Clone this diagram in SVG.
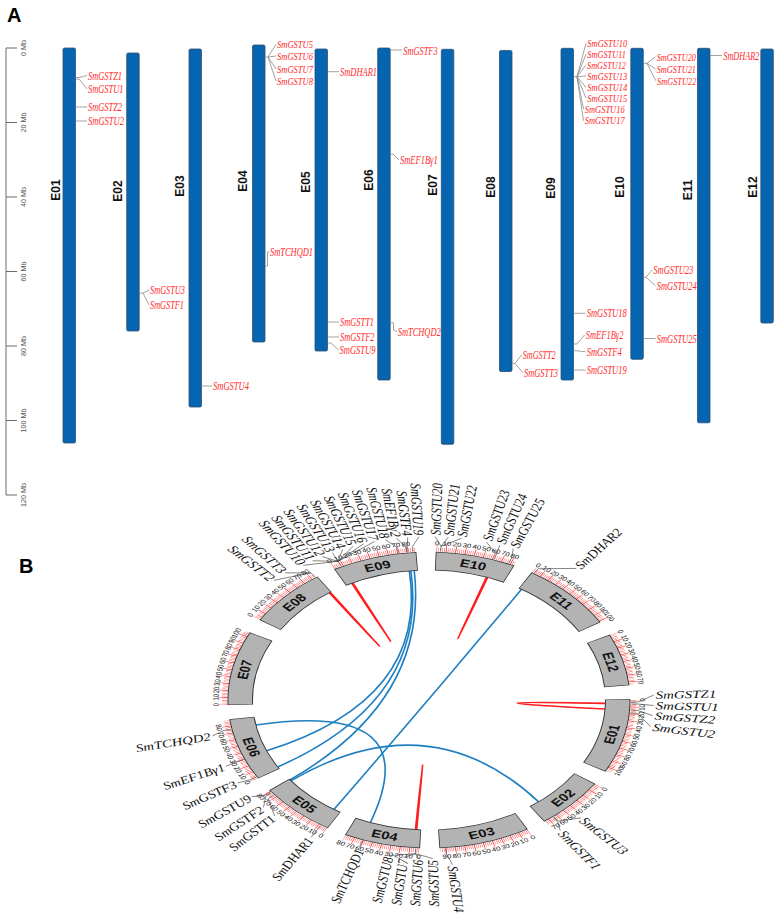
<svg xmlns="http://www.w3.org/2000/svg" width="781" height="918" viewBox="0 0 781 918">
<style>
.pl{font:bold 20px "Liberation Sans",Arial,sans-serif;fill:#000}
.rul{fill:none;stroke:#6b6b6b;stroke-width:1}
.rt{font:7.2px "Liberation Sans",Arial,sans-serif;fill:#555;text-anchor:middle;dominant-baseline:central}
.chr{fill:#0565b0;stroke:#2f4f70;stroke-width:0.8}
.cl{font:bold 12px "Liberation Sans",Arial,sans-serif;fill:#111;text-anchor:middle;dominant-baseline:central}
.gA{font:italic 12.5px "Liberation Serif","Times New Roman",serif;fill:#ff2a2a}
.gs{font-size:10.5px}
.cn{fill:none;stroke:#8c8c8c;stroke-width:0.8}
.lk{fill:none;stroke-width:1.6;vector-effect:non-scaling-stroke}
.r{stroke:#ff1e1e}
.b{stroke:#1f7fc2}
.mn{fill:none;stroke:#ff3535;stroke-width:4;stroke-dasharray:0.35 1.06842;stroke-dashoffset:0.175}
.mj{fill:none;stroke:#ff3535;stroke-width:9;stroke-dasharray:0.5 6.5921;stroke-dashoffset:0.25}
.bo{fill:none;stroke:#333;stroke-width:18.8}
.bf{fill:none;stroke:#b3b3b3;stroke-width:17.4}
.sl{font:bold 11px "Liberation Sans",Arial,sans-serif;fill:#111;text-anchor:middle;dominant-baseline:central}
.tk{font:5.8px "Liberation Sans",Arial,sans-serif;fill:#111;text-anchor:middle;dominant-baseline:central}
.ld{fill:none;stroke:#333;stroke-width:0.6;vector-effect:non-scaling-stroke}
.gl{font:italic 11px "Liberation Serif","Times New Roman",serif;fill:#111;dominant-baseline:central}
.e{text-anchor:end}
</style>
<defs>
<path id="a2862" d="M150.5 0A150.5 150.5 0 0 1 132.112 72.089"/>
<path id="a2025" d="M150.5 0A150.5 150.5 0 0 1 141.197 52.091"/>
<path id="a2592" d="M150.5 0A150.5 150.5 0 0 1 135.360 65.786"/>
<path id="a2160" d="M150.5 0A150.5 150.5 0 0 1 139.931 55.403"/>
<path id="a2187" d="M150.5 0A150.5 150.5 0 0 1 139.669 56.062"/>
<path id="a2403" d="M150.5 0A150.5 150.5 0 0 1 137.456 61.286"/>
<path id="a2322" d="M150.5 0A150.5 150.5 0 0 1 138.309 59.336"/>
<path id="a2268" d="M150.5 0A150.5 150.5 0 0 1 138.862 58.031"/>
<path id="a2727" d="M150.5 0A150.5 150.5 0 0 1 133.773 68.957"/>
<path id="a1998" d="M150.5 0A150.5 150.5 0 0 1 141.442 51.425"/>
</defs>
<rect width="781" height="918" fill="#fff"/>

<g id="panelA">
<text class="pl" x="7" y="22">A</text>
<g id="ruler">
<path class="rul" d="M6 48V495M6 48H17M6 122.5H17M6 197H17M6 271.5H17M6 346H17M6 420.5H17M6 495H17"/>
<text class="rt" transform="translate(23 48) rotate(-90)">0 Mb</text>
<text class="rt" transform="translate(23 122.5) rotate(-90)">20 Mb</text>
<text class="rt" transform="translate(23 197) rotate(-90)">40 Mb</text>
<text class="rt" transform="translate(23 271.5) rotate(-90)">60 Mb</text>
<text class="rt" transform="translate(23 346) rotate(-90)">80 Mb</text>
<text class="rt" transform="translate(23 420.5) rotate(-90)">100 Mb</text>
<text class="rt" transform="translate(23 495) rotate(-90)">120 Mb</text>
</g>
<g id="A-E01">
<rect class="chr" x="63" y="48" width="12.5" height="395" rx="1.5"/>
<text class="cl" transform="translate(56 190) rotate(-90)">E01</text>
<path class="cn" d="M75.5 77.5H79L87 75.5M75.5 79H79L87 89M75.5 107H87M75.5 121H87"/>
<text class="gA" x="88" y="80" textLength="34" lengthAdjust="spacingAndGlyphs">SmGSTZ1</text>
<text class="gA" x="88" y="93" textLength="35.5" lengthAdjust="spacingAndGlyphs">SmGSTU1</text>
<text class="gA" x="88" y="111" textLength="34" lengthAdjust="spacingAndGlyphs">SmGSTZ2</text>
<text class="gA" x="88" y="125" textLength="36" lengthAdjust="spacingAndGlyphs">SmGSTU2</text>
</g>
<g id="A-E02">
<rect class="chr" x="126.7" y="53" width="12.5" height="278" rx="1.5"/>
<text class="cl" transform="translate(118 191) rotate(-90)">E02</text>
<path class="cn" d="M139.2 293H143L149 290M143 293L149 305"/>
<text class="gA" x="150" y="294" textLength="35" lengthAdjust="spacingAndGlyphs">SmGSTU3</text>
<text class="gA" x="150" y="309" textLength="34" lengthAdjust="spacingAndGlyphs">SmGSTF1</text>
</g>
<g id="A-E03">
<rect class="chr" x="189" y="49" width="12.5" height="358" rx="1.5"/>
<text class="cl" transform="translate(180 186) rotate(-90)">E03</text>
<path class="cn" d="M201.5 386H212"/>
<text class="gA" x="213" y="390" textLength="36" lengthAdjust="spacingAndGlyphs">SmGSTU4</text>
</g>
<g id="A-E04">
<rect class="chr" x="252.5" y="45" width="12.5" height="297" rx="1.5"/>
<text class="cl" transform="translate(243 181) rotate(-90)">E04</text>
<path class="cn" d="M265 57H268L276 44.5M268 57L276 56M268 57L276 69M268 57L276 81M265 266H267.5V252H269.5"/>
<text class="gA gs" x="277" y="48.3" textLength="36" lengthAdjust="spacingAndGlyphs">SmGSTU5</text>
<text class="gA gs" x="277" y="59.8" textLength="36" lengthAdjust="spacingAndGlyphs">SmGSTU6</text>
<text class="gA gs" x="277" y="72.8" textLength="36" lengthAdjust="spacingAndGlyphs">SmGSTU7</text>
<text class="gA gs" x="277" y="84.8" textLength="36" lengthAdjust="spacingAndGlyphs">SmGSTU8</text>
<text class="gA" x="270" y="256" textLength="43" lengthAdjust="spacingAndGlyphs">SmTCHQD1</text>
</g>
<g id="A-E05">
<rect class="chr" x="315" y="49" width="12.5" height="302" rx="1.5"/>
<text class="cl" transform="translate(306 182) rotate(-90)">E05</text>
<path class="cn" d="M327.5 71.7H339M327.5 322H339M327.5 337H339M327.5 343H331L338.5 350"/>
<text class="gA" x="340" y="75.7" textLength="37" lengthAdjust="spacingAndGlyphs">SmDHAR1</text>
<text class="gA" x="340" y="326" textLength="34" lengthAdjust="spacingAndGlyphs">SmGSTT1</text>
<text class="gA" x="340" y="341" textLength="34.5" lengthAdjust="spacingAndGlyphs">SmGSTF2</text>
<text class="gA" x="339.5" y="354" textLength="36" lengthAdjust="spacingAndGlyphs">SmGSTU9</text>
</g>
<g id="A-E06">
<rect class="chr" x="377.7" y="48" width="12.5" height="332" rx="1.5"/>
<text class="cl" transform="translate(369 180) rotate(-90)">E06</text>
<path class="cn" d="M390.2 50H402M390.2 154H393L399 160M390.2 322.7H393.5V330L397 331.7"/>
<text class="gA" x="403.3" y="54.5" textLength="34.3" lengthAdjust="spacingAndGlyphs">SmGSTF3</text>
<text class="gA" x="400" y="164" textLength="37.7" lengthAdjust="spacingAndGlyphs">SmEF1Bγ1</text>
<text class="gA" x="397.7" y="335.7" textLength="43" lengthAdjust="spacingAndGlyphs">SmTCHQD2</text>
</g>
<g id="A-E07">
<rect class="chr" x="441.3" y="49.3" width="12.5" height="395" rx="1.5"/>
<text class="cl" transform="translate(433 185) rotate(-90)">E07</text>
</g>
<g id="A-E08">
<rect class="chr" x="499.5" y="50.5" width="12.5" height="321" rx="1.5"/>
<text class="cl" transform="translate(491 187) rotate(-90)">E08</text>
<path class="cn" d="M512 363.5H515L521.5 355M515 363.5L523 372.7"/>
<text class="gA" x="522.7" y="359" textLength="33" lengthAdjust="spacingAndGlyphs">SmGSTT2</text>
<text class="gA" x="524" y="376.7" textLength="34" lengthAdjust="spacingAndGlyphs">SmGSTT3</text>
</g>
<g id="A-E09">
<rect class="chr" x="561" y="48.3" width="12.5" height="331.7" rx="1.5"/>
<text class="cl" transform="translate(551 188) rotate(-90)">E09</text>
<path class="cn" d="M573.5 76.7H577L586 43.3M577 76.7L586 54.3M577 76.7L586 64.8M577 76.7L586 76M577 76.7L586 87.3M577 76.7L586 98M577 76.7L583.5 109M577 76.7L583.5 120.7M573.5 313.3H585.5M573.5 344H577L584.5 335M573.5 350.5L585.5 351.7M573.5 370H585.5"/>
<text class="gA gs" x="587.3" y="47" textLength="40" lengthAdjust="spacingAndGlyphs">SmGSTU10</text>
<text class="gA gs" x="587.3" y="57.8" textLength="38.5" lengthAdjust="spacingAndGlyphs">SmGSTU11</text>
<text class="gA gs" x="587" y="68.5" textLength="39" lengthAdjust="spacingAndGlyphs">SmGSTU12</text>
<text class="gA gs" x="587.3" y="79.7" textLength="40" lengthAdjust="spacingAndGlyphs">SmGSTU13</text>
<text class="gA gs" x="587.3" y="91" textLength="40" lengthAdjust="spacingAndGlyphs">SmGSTU14</text>
<text class="gA gs" x="587.3" y="101.9" textLength="40" lengthAdjust="spacingAndGlyphs">SmGSTU15</text>
<text class="gA gs" x="584.7" y="112.8" textLength="40" lengthAdjust="spacingAndGlyphs">SmGSTU16</text>
<text class="gA gs" x="584.7" y="124.4" textLength="40" lengthAdjust="spacingAndGlyphs">SmGSTU17</text>
<text class="gA" x="586.7" y="317.3" textLength="40" lengthAdjust="spacingAndGlyphs">SmGSTU18</text>
<text class="gA" x="585.7" y="339" textLength="37.7" lengthAdjust="spacingAndGlyphs">SmEF1Bγ2</text>
<text class="gA" x="586.7" y="355.7" textLength="35" lengthAdjust="spacingAndGlyphs">SmGSTF4</text>
<text class="gA" x="586.7" y="374" textLength="40" lengthAdjust="spacingAndGlyphs">SmGSTU19</text>
</g>
<g id="A-E10">
<rect class="chr" x="630.8" y="48.3" width="12.5" height="311" rx="1.5"/>
<text class="cl" transform="translate(620 187) rotate(-90)">E10</text>
<path class="cn" d="M643.3 63.3H647L655.5 56.7M647 63.3L655.5 69M647 63.3L655.8 80.7M643.3 277.3H646L652 270M646 277.3L655.5 285.7M643.3 338.5H655.5"/>
<text class="gA gs" x="656.7" y="60.5" textLength="39.3" lengthAdjust="spacingAndGlyphs">SmGSTU20</text>
<text class="gA gs" x="656.7" y="72.8" textLength="39.3" lengthAdjust="spacingAndGlyphs">SmGSTU21</text>
<text class="gA gs" x="657" y="84.5" textLength="39.3" lengthAdjust="spacingAndGlyphs">SmGSTU22</text>
<text class="gA" x="653.3" y="274" textLength="40" lengthAdjust="spacingAndGlyphs">SmGSTU23</text>
<text class="gA" x="656.7" y="289.7" textLength="40" lengthAdjust="spacingAndGlyphs">SmGSTU24</text>
<text class="gA" x="656.7" y="343.3" textLength="40" lengthAdjust="spacingAndGlyphs">SmGSTU25</text>
</g>
<g id="A-E11">
<rect class="chr" x="697.5" y="48.3" width="12.5" height="374.5" rx="1.5"/>
<text class="cl" transform="translate(688 190) rotate(-90)">E11</text>
<path class="cn" d="M710 55.5H722"/>
<text class="gA" x="723.3" y="60" textLength="36" lengthAdjust="spacingAndGlyphs">SmDHAR2</text>
</g>
<g id="A-E12">
<rect class="chr" x="760.8" y="49" width="12.5" height="274" rx="1.5"/>
<text class="cl" transform="translate(753 187) rotate(-90)">E12</text>
</g>
</g>

<g id="panelB">
<text class="pl" x="19" y="573">B</text>
<g transform="translate(429 700) scale(1.358 1)">
<g id="links">
<path class="lk r" d="M129.96 3.40Q0 0 129.68 9.07"/>
<path class="lk r" d="M-73.45 -107.26Q0 0 -72.69 -107.78"/>
<path class="lk r" d="M-56.99 -116.84Q0 0 -56.17 -117.24"/>
<path class="lk r" d="M42.32 -122.92Q0 0 43.18 -122.62"/>
<path class="lk r" d="M-9.07 129.68Q0 0 -9.97 129.62"/>
<path class="lk b" d="M-127.57 25.03Q0 0 -43.18 122.62"/>
<path class="lk b" d="M-119.67 50.79Q0 0 -14.49 -129.19"/>
<path class="lk b" d="M-111.43 66.96Q0 0 -13.36 -129.31"/>
<path class="lk b" d="M-102.44 80.04Q0 0 -10.88 -129.54"/>
<path class="lk b" d="M-101.74 80.93Q0 0 80.75 101.88"/>
<path class="lk b" d="M-70.04 109.52Q0 0 68.12 -110.72"/>
</g>

<g id="B-E01">
<use href="#a2862" class="mn"/><use href="#a2862" class="mj"/>
<circle r="139" class="bo" stroke-dasharray="70.645 900" transform="rotate(-0.25)"/>
<circle r="139" class="bf" stroke-dasharray="69.432 900"/>
<text class="sl" transform="rotate(14.31)translate(139)rotate(-90)">E01</text>
<g class="tk">
<text transform="rotate(0)translate(157)rotate(-90)">0</text>
<text transform="rotate(2.7)translate(157)rotate(-90)">10</text>
<text transform="rotate(5.4)translate(157)rotate(-90)">20</text>
<text transform="rotate(8.1)translate(157)rotate(-90)">30</text>
<text transform="rotate(10.8)translate(157)rotate(-90)">40</text>
<text transform="rotate(13.5)translate(157)rotate(-90)">50</text>
<text transform="rotate(16.2)translate(157)rotate(-90)">60</text>
<text transform="rotate(18.9)translate(157)rotate(-90)">70</text>
<text transform="rotate(21.6)translate(157)rotate(-90)">80</text>
<text transform="rotate(24.3)translate(157)rotate(-90)">90</text>
<text transform="rotate(27)translate(157)rotate(-90)">100</text>
</g>
<path class="ld" transform="rotate(0.8)" d="M149 0H154L165.34 -7.22"/>
<path class="ld" transform="rotate(1.5)" d="M149 0H154L165.50 1.16"/>
<path class="ld" transform="rotate(3.9)" d="M149 0H154L165.44 4.33"/>
<path class="ld" transform="rotate(5)" d="M149 0H154L165.03 12.41"/>
<text class="gl" transform="rotate(-1.7)translate(167)">SmGSTZ1</text>
<text class="gl" transform="rotate(1.9)translate(167)">SmGSTU1</text>
<text class="gl" transform="rotate(5.4)translate(167)">SmGSTZ2</text>
<text class="gl" transform="rotate(9.3)translate(167)">SmGSTU2</text>
</g>

<g id="B-E02">
<use href="#a2025" class="mn" transform="rotate(34.62)"/><use href="#a2025" class="mj" transform="rotate(34.62)"/>
<circle r="139" class="bo" stroke-dasharray="50.340 900" transform="rotate(34.37)"/>
<circle r="139" class="bf" stroke-dasharray="49.127 900" transform="rotate(34.62)"/>
<text class="sl" transform="rotate(44.75)translate(139)rotate(-90)">E02</text>
<g class="tk">
<text transform="rotate(34.62)translate(157)rotate(-90)">0</text>
<text transform="rotate(37.32)translate(157)rotate(-90)">10</text>
<text transform="rotate(40.02)translate(157)rotate(-90)">20</text>
<text transform="rotate(42.72)translate(157)rotate(-90)">30</text>
<text transform="rotate(45.42)translate(157)rotate(-90)">40</text>
<text transform="rotate(48.12)translate(157)rotate(-90)">50</text>
<text transform="rotate(50.82)translate(157)rotate(-90)">60</text>
<text transform="rotate(53.52)translate(157)rotate(-90)">70</text>
</g>
<path class="ld" transform="rotate(51.8)" d="M149 0H154L161.81 -15.01"/>
<path class="ld" transform="rotate(52.1)" d="M149 0H154L162.45 3.97"/>
<text class="gl" transform="rotate(46.5)translate(164)">SmGSTU3</text>
<text class="gl" transform="rotate(53.5)translate(164)">SmGSTF1</text>
</g>

<g id="B-E03">
<use href="#a2592" class="mn" transform="rotate(60.87)"/><use href="#a2592" class="mj" transform="rotate(60.87)"/>
<circle r="139" class="bo" stroke-dasharray="64.095 900" transform="rotate(60.62)"/>
<circle r="139" class="bf" stroke-dasharray="62.882 900" transform="rotate(60.87)"/>
<text class="sl" transform="rotate(73.83)translate(139)rotate(-90)">E03</text>
<g class="tk">
<text transform="rotate(60.87)translate(157)rotate(-90)">0</text>
<text transform="rotate(63.57)translate(157)rotate(-90)">10</text>
<text transform="rotate(66.27)translate(157)rotate(-90)">20</text>
<text transform="rotate(68.97)translate(157)rotate(-90)">30</text>
<text transform="rotate(71.67)translate(157)rotate(-90)">40</text>
<text transform="rotate(74.37)translate(157)rotate(-90)">50</text>
<text transform="rotate(77.07)translate(157)rotate(-90)">60</text>
<text transform="rotate(79.77)translate(157)rotate(-90)">70</text>
<text transform="rotate(82.47)translate(157)rotate(-90)">80</text>
<text transform="rotate(85.17)translate(157)rotate(-90)">90</text>
</g>
<path class="ld" transform="rotate(85.3)" d="M149 0H154L165.46 -3.76"/>
<text class="gl" transform="rotate(84)translate(167)">SmGSTU4</text>
</g>

<g id="B-E04">
<use href="#a2160" class="mn" transform="rotate(92.79)"/><use href="#a2160" class="mj" transform="rotate(92.79)"/>
<circle r="139" class="bo" stroke-dasharray="53.615 900" transform="rotate(92.54)"/>
<circle r="139" class="bf" stroke-dasharray="52.402 900" transform="rotate(92.79)"/>
<text class="sl" transform="rotate(103.59)translate(139)rotate(-90)">E04</text>
<g class="tk">
<text transform="rotate(92.79)translate(157)rotate(-90)">0</text>
<text transform="rotate(95.49)translate(157)rotate(-90)">10</text>
<text transform="rotate(98.19)translate(157)rotate(-90)">20</text>
<text transform="rotate(100.89)translate(157)rotate(-90)">30</text>
<text transform="rotate(103.59)translate(157)rotate(-90)">40</text>
<text transform="rotate(106.29)translate(157)rotate(-90)">50</text>
<text transform="rotate(108.99)translate(157)rotate(-90)">60</text>
<text transform="rotate(111.69)translate(157)rotate(-90)">70</text>
<text transform="rotate(114.39)translate(157)rotate(-90)">80</text>
</g>
<path class="ld" transform="rotate(93.7)" d="M149 0H154L157.29 19.59M154 0L158.27 8.57M154 0L158.49 -2.21M154 0L157.97 -12.99"/>
<path class="ld" transform="rotate(109.2)" d="M149 0H154L156.50 -0.82"/>
<text class="gl e" transform="rotate(100.8)translate(160)rotate(180)">SmGSTU8</text>
<text class="gl e" transform="rotate(96.8)translate(160)rotate(180)">SmGSTU7</text>
<text class="gl e" transform="rotate(92.9)translate(160)rotate(180)">SmGSTU6</text>
<text class="gl e" transform="rotate(89)translate(160)rotate(180)">SmGSTU5</text>
<text class="gl e" transform="rotate(108.9)translate(158)rotate(180)">SmTCHQD1</text>
</g>

<g id="B-E05">
<use href="#a2187" class="mn" transform="rotate(120.39)"/><use href="#a2187" class="mj" transform="rotate(120.39)"/>
<circle r="139" class="bo" stroke-dasharray="54.270 900" transform="rotate(120.14)"/>
<circle r="139" class="bf" stroke-dasharray="53.057 900" transform="rotate(120.39)"/>
<text class="sl" transform="rotate(131.33)translate(139)rotate(-90)">E05</text>
<g class="tk">
<text transform="rotate(120.39)translate(157)rotate(-90)">0</text>
<text transform="rotate(123.09)translate(157)rotate(-90)">10</text>
<text transform="rotate(125.79)translate(157)rotate(-90)">20</text>
<text transform="rotate(128.49)translate(157)rotate(-90)">30</text>
<text transform="rotate(131.19)translate(157)rotate(-90)">40</text>
<text transform="rotate(133.89)translate(157)rotate(-90)">50</text>
<text transform="rotate(136.59)translate(157)rotate(-90)">60</text>
<text transform="rotate(139.29)translate(157)rotate(-90)">70</text>
<text transform="rotate(141.99)translate(157)rotate(-90)">80</text>
</g>
<path class="ld" transform="rotate(122.4)" d="M149 0H154L162.50 -0.28"/>
<path class="ld" transform="rotate(140.2)" d="M149 0H154L161.67 -16.42"/>
<path class="ld" transform="rotate(141.3)" d="M149 0H154L162.32 -7.66"/>
<path class="ld" transform="rotate(141.7)" d="M149 0H154L162.42 5.10"/>
<text class="gl e" transform="rotate(122.3)translate(164)rotate(180)">SmDHAR1</text>
<text class="gl e" transform="rotate(134.4)translate(164)rotate(180)">SmGSTT1</text>
<text class="gl e" transform="rotate(138.6)translate(164)rotate(180)">SmGSTF2</text>
<text class="gl e" transform="rotate(143.5)translate(164)rotate(180)">SmGSTU9</text>
</g>

<g id="B-E06">
<use href="#a2403" class="mn" transform="rotate(148.26)"/><use href="#a2403" class="mj" transform="rotate(148.26)"/>
<circle r="139" class="bo" stroke-dasharray="59.510 900" transform="rotate(148.01)"/>
<circle r="139" class="bf" stroke-dasharray="58.297 900" transform="rotate(148.26)"/>
<text class="sl" transform="rotate(160.28)translate(139)rotate(-90)">E06</text>
<g class="tk">
<text transform="rotate(148.26)translate(157)rotate(-90)">0</text>
<text transform="rotate(150.96)translate(157)rotate(-90)">10</text>
<text transform="rotate(153.66)translate(157)rotate(-90)">20</text>
<text transform="rotate(156.36)translate(157)rotate(-90)">30</text>
<text transform="rotate(159.06)translate(157)rotate(-90)">40</text>
<text transform="rotate(161.76)translate(157)rotate(-90)">50</text>
<text transform="rotate(164.46)translate(157)rotate(-90)">60</text>
<text transform="rotate(167.16)translate(157)rotate(-90)">70</text>
<text transform="rotate(169.86)translate(157)rotate(-90)">80</text>
</g>
<path class="ld" transform="rotate(148.8)" d="M149 0H154L163.49 2.00"/>
<path class="ld" transform="rotate(156.5)" d="M149 0H154L163.50 -1.14"/>
<path class="ld" transform="rotate(168.6)" d="M149 0H154L163.46 -3.71"/>
<text class="gl e" transform="rotate(149.5)translate(165)rotate(180)">SmGSTF3</text>
<text class="gl e" transform="rotate(156.1)translate(165)rotate(180)">SmEF1Bγ1</text>
<text class="gl e" transform="rotate(167.3)translate(165)rotate(180)">SmTCHQD2</text>
</g>

<g id="B-E07">
<use href="#a2862" class="mn" transform="rotate(178.29)"/><use href="#a2862" class="mj" transform="rotate(178.29)"/>
<circle r="139" class="bo" stroke-dasharray="70.645 900" transform="rotate(178.04)"/>
<circle r="139" class="bf" stroke-dasharray="69.432 900" transform="rotate(178.29)"/>
<text class="sl" transform="rotate(192.6)translate(139)rotate(90)">E07</text>
<g class="tk">
<text transform="rotate(178.29)translate(157)rotate(90)">0</text>
<text transform="rotate(180.99)translate(157)rotate(90)">10</text>
<text transform="rotate(183.69)translate(157)rotate(90)">20</text>
<text transform="rotate(186.39)translate(157)rotate(90)">30</text>
<text transform="rotate(189.09)translate(157)rotate(90)">40</text>
<text transform="rotate(191.79)translate(157)rotate(90)">50</text>
<text transform="rotate(194.49)translate(157)rotate(90)">60</text>
<text transform="rotate(197.19)translate(157)rotate(90)">70</text>
<text transform="rotate(199.89)translate(157)rotate(90)">80</text>
<text transform="rotate(202.59)translate(157)rotate(90)">90</text>
<text transform="rotate(205.29)translate(157)rotate(90)">100</text>
</g>
</g>

<g id="B-E08">
<use href="#a2322" class="mn" transform="rotate(212.91)"/><use href="#a2322" class="mj" transform="rotate(212.91)"/>
<circle r="139" class="bo" stroke-dasharray="57.545 900" transform="rotate(212.66)"/>
<circle r="139" class="bf" stroke-dasharray="56.332 900" transform="rotate(212.91)"/>
<text class="sl" transform="rotate(224.52)translate(139)rotate(90)">E08</text>
<g class="tk">
<text transform="rotate(212.91)translate(157)rotate(90)">0</text>
<text transform="rotate(215.61)translate(157)rotate(90)">10</text>
<text transform="rotate(218.31)translate(157)rotate(90)">20</text>
<text transform="rotate(221.01)translate(157)rotate(90)">30</text>
<text transform="rotate(223.71)translate(157)rotate(90)">40</text>
<text transform="rotate(226.41)translate(157)rotate(90)">50</text>
<text transform="rotate(229.11)translate(157)rotate(90)">60</text>
<text transform="rotate(231.81)translate(157)rotate(90)">70</text>
<text transform="rotate(234.51)translate(157)rotate(90)">80</text>
</g>
<path class="ld" transform="rotate(235.6)" d="M149 0H154L163.33 -26.75M154 0L164.77 -15.58"/>
<text class="gl e" transform="rotate(226.3)translate(167)rotate(180)">SmGSTT2</text>
<text class="gl e" transform="rotate(230.2)translate(167)rotate(180)">SmGSTT3</text>
</g>

<g id="B-E09">
<use href="#a2403" class="mn" transform="rotate(242.13)"/><use href="#a2403" class="mj" transform="rotate(242.13)"/>
<circle r="139" class="bo" stroke-dasharray="59.510 900" transform="rotate(241.88)"/>
<circle r="139" class="bf" stroke-dasharray="58.297 900" transform="rotate(242.13)"/>
<text class="sl" transform="rotate(254.15)translate(139)rotate(90)">E09</text>
<g class="tk">
<text transform="rotate(242.13)translate(157)rotate(90)">0</text>
<text transform="rotate(244.83)translate(157)rotate(90)">10</text>
<text transform="rotate(247.53)translate(157)rotate(90)">20</text>
<text transform="rotate(250.23)translate(157)rotate(90)">30</text>
<text transform="rotate(252.93)translate(157)rotate(90)">40</text>
<text transform="rotate(255.63)translate(157)rotate(90)">50</text>
<text transform="rotate(258.33)translate(157)rotate(90)">60</text>
<text transform="rotate(261.03)translate(157)rotate(90)">70</text>
<text transform="rotate(263.73)translate(157)rotate(90)">80</text>
</g>
<path class="ld" transform="rotate(244.2)" d="M149 0H154L161.62 -24.73M154 0L162.66 -16.52M154 0L163.29 -8.27M154 0L163.5 0M154 0L163.29 8.27M154 0L162.66 16.52M154 0L161.62 24.73M154 0L160.16 32.88"/>
<path class="ld" transform="rotate(261.35)" d="M149 0H154L163.33 -7.56"/>
<path class="ld" transform="rotate(263.6)" d="M149 0H154L163.40 -5.71"/>
<path class="ld" transform="rotate(264.05)" d="M149 0H154L163.50 1.28"/>
<path class="ld" transform="rotate(265.5)" d="M149 0H154L163.41 5.42"/>
<text class="gl e" transform="rotate(235.5)translate(165)rotate(180)">SmGSTU10</text>
<text class="gl e" transform="rotate(238.4)translate(165)rotate(180)">SmGSTU11</text>
<text class="gl e" transform="rotate(241.3)translate(165)rotate(180)">SmGSTU12</text>
<text class="gl e" transform="rotate(244.2)translate(165)rotate(180)">SmGSTU13</text>
<text class="gl e" transform="rotate(247.1)translate(165)rotate(180)">SmGSTU14</text>
<text class="gl e" transform="rotate(250)translate(165)rotate(180)">SmGSTU15</text>
<text class="gl e" transform="rotate(252.9)translate(165)rotate(180)">SmGSTU16</text>
<text class="gl e" transform="rotate(255.8)translate(165)rotate(180)">SmGSTU17</text>
<text class="gl e" transform="rotate(258.7)translate(165)rotate(180)">SmGSTU18</text>
<text class="gl e" transform="rotate(261.6)translate(165)rotate(180)">SmEF1Bγ2</text>
<text class="gl e" transform="rotate(264.5)translate(165)rotate(180)">SmGSTF4</text>
<text class="gl e" transform="rotate(267.4)translate(165)rotate(180)">SmGSTU19</text>
</g>

<g id="B-E10">
<use href="#a2268" class="mn" transform="rotate(272.16)"/><use href="#a2268" class="mj" transform="rotate(272.16)"/>
<circle r="139" class="bo" stroke-dasharray="56.235 900" transform="rotate(271.91)"/>
<circle r="139" class="bf" stroke-dasharray="55.022 900" transform="rotate(272.16)"/>
<text class="sl" transform="rotate(283.5)translate(139)rotate(90)">E10</text>
<g class="tk">
<text transform="rotate(272.16)translate(157)rotate(90)">0</text>
<text transform="rotate(274.86)translate(157)rotate(90)">10</text>
<text transform="rotate(277.56)translate(157)rotate(90)">20</text>
<text transform="rotate(280.26)translate(157)rotate(90)">30</text>
<text transform="rotate(282.96)translate(157)rotate(90)">40</text>
<text transform="rotate(285.66)translate(157)rotate(90)">50</text>
<text transform="rotate(288.36)translate(157)rotate(90)">60</text>
<text transform="rotate(291.06)translate(157)rotate(90)">70</text>
<text transform="rotate(293.76)translate(157)rotate(90)">80</text>
</g>
<path class="ld" transform="rotate(273.3)" d="M149 0H154L163.43 -4.85M154 0L163.43 4.85M154 0L162.85 14.53"/>
<path class="ld" transform="rotate(288.8)" d="M149 0H154L163.14 -10.84M154 0L163.50 -0.57"/>
<path class="ld" transform="rotate(293.2)" d="M149 0H154L163.48 -2.57"/>
<text class="gl" transform="rotate(271.6)translate(165)">SmGSTU20</text>
<text class="gl" transform="rotate(275)translate(165)">SmGSTU21</text>
<text class="gl" transform="rotate(278.4)translate(165)">SmGSTU22</text>
<text class="gl" transform="rotate(285)translate(165)">SmGSTU23</text>
<text class="gl" transform="rotate(288.6)translate(165)">SmGSTU24</text>
<text class="gl" transform="rotate(292.3)translate(165)">SmGSTU25</text>
</g>

<g id="B-E11">
<use href="#a2727" class="mn" transform="rotate(300.84)"/><use href="#a2727" class="mj" transform="rotate(300.84)"/>
<circle r="139" class="bo" stroke-dasharray="67.370 900" transform="rotate(300.59)"/>
<circle r="139" class="bf" stroke-dasharray="66.158 900" transform="rotate(300.84)"/>
<text class="sl" transform="rotate(314.48)translate(139)rotate(90)">E11</text>
<g class="tk">
<text transform="rotate(300.84)translate(157)rotate(90)">0</text>
<text transform="rotate(303.54)translate(157)rotate(90)">10</text>
<text transform="rotate(306.24)translate(157)rotate(90)">20</text>
<text transform="rotate(308.94)translate(157)rotate(90)">30</text>
<text transform="rotate(311.64)translate(157)rotate(90)">40</text>
<text transform="rotate(314.34)translate(157)rotate(90)">50</text>
<text transform="rotate(317.04)translate(157)rotate(90)">60</text>
<text transform="rotate(319.74)translate(157)rotate(90)">70</text>
<text transform="rotate(322.44)translate(157)rotate(90)">80</text>
<text transform="rotate(325.14)translate(157)rotate(90)">90</text>
<text transform="rotate(327.84)translate(157)rotate(90)">100</text>
</g>
<path class="ld" transform="rotate(301.5)" d="M149 0H154L168.84 23.73"/>
<text class="gl" transform="rotate(309.5)translate(172)">SmDHAR2</text>
</g>

<g id="B-E12">
<use href="#a1998" class="mn" transform="rotate(334.11)"/><use href="#a1998" class="mj" transform="rotate(334.11)"/>
<circle r="139" class="bo" stroke-dasharray="49.685 900" transform="rotate(333.86)"/>
<circle r="139" class="bf" stroke-dasharray="48.472 900" transform="rotate(334.11)"/>
<text class="sl" transform="rotate(344.1)translate(139)rotate(90)">E12</text>
<g class="tk">
<text transform="rotate(334.11)translate(157)rotate(90)">0</text>
<text transform="rotate(336.81)translate(157)rotate(90)">10</text>
<text transform="rotate(339.51)translate(157)rotate(90)">20</text>
<text transform="rotate(342.21)translate(157)rotate(90)">30</text>
<text transform="rotate(344.91)translate(157)rotate(90)">40</text>
<text transform="rotate(347.61)translate(157)rotate(90)">50</text>
<text transform="rotate(350.31)translate(157)rotate(90)">60</text>
<text transform="rotate(353.01)translate(157)rotate(90)">70</text>
</g>
</g>
</g>
</g>
</svg>
